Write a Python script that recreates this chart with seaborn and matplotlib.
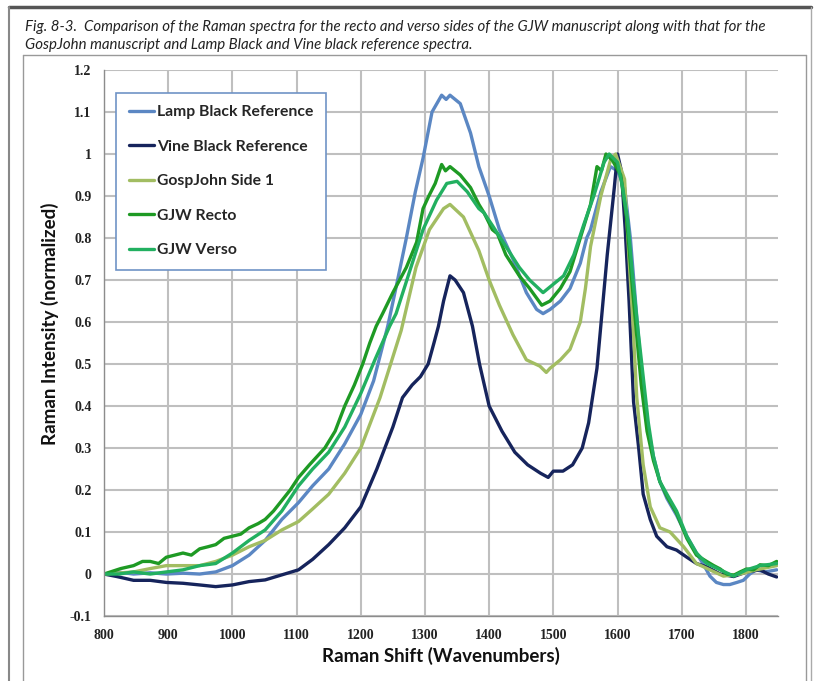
import matplotlib.pyplot as plt
import seaborn as sns
import pandas as pd
from matplotlib.lines import Line2D

sns.set_style("whitegrid")
plt.rcParams["font.family"] = ["Lato", "DejaVu Sans"]

# series names / colours (Excel-like)
names = ["Lamp Black Reference", "Vine Black Reference", "GospJohn Side 1", "GJW Recto", "GJW Verso"]
colors = ["#5B87C3", "#16245C", "#A2BD62", "#1E9A24", "#22B060"]

x_ticks = [800, 900, 1000, 1100, 1200, 1300, 1400, 1500, 1600, 1700, 1800]
y_ticks = [-0.1, 0, 0.1, 0.2, 0.3, 0.4, 0.5, 0.6, 0.7, 0.8, 0.9, 1, 1.1, 1.2]
y_tick_labels = ["-0.1", "0", "0.1", "0.2", "0.3", "0.4", "0.5", "0.6", "0.7", "0.8", "0.9", "1", "1.1", "1.2"]

lamp_x = [800, 820, 846, 872, 897, 923, 949, 974, 1000, 1026, 1051, 1077, 1103, 1125, 1150, 1175, 1200,
          1220, 1242, 1256, 1271, 1285, 1297, 1311, 1326, 1333, 1339, 1355, 1371, 1384, 1400, 1416, 1437,
          1458, 1474, 1484, 1495, 1511, 1526, 1542, 1552, 1558, 1574, 1589, 1600, 1611, 1620, 1628, 1635,
          1646, 1656, 1666, 1677, 1692, 1708, 1723, 1735, 1744, 1754, 1765, 1775, 1786, 1796, 1806, 1816,
          1830, 1848]
lamp_y = [0.0, 0.005, 0.0, 0.003, 0.0, 0.002, 0.0, 0.005, 0.02, 0.045, 0.08, 0.13, 0.17, 0.21, 0.25, 0.31, 0.38,
          0.46, 0.59, 0.69, 0.80, 0.91, 0.99, 1.10, 1.14, 1.13, 1.14, 1.12, 1.05, 0.97, 0.90, 0.82, 0.75,
          0.67, 0.63, 0.62, 0.63, 0.65, 0.68, 0.74, 0.80, 0.82, 0.91, 0.97, 0.96, 0.92, 0.80, 0.65, 0.52,
          0.36, 0.28, 0.22, 0.18, 0.14, 0.09, 0.05, 0.02, -0.005, -0.02, -0.025, -0.025, -0.02, -0.015, 0.0, 0.01,
          0.005, 0.01]

vine_x = [800, 820, 846, 872, 897, 923, 949, 974, 1000, 1026, 1051, 1077, 1103, 1125, 1150, 1175, 1200,
          1225, 1250, 1265, 1280, 1293, 1305, 1314, 1321, 1329, 1339, 1347, 1360, 1374, 1385, 1400, 1420,
          1440, 1460, 1480, 1492, 1500, 1515, 1530, 1545, 1555, 1568, 1584, 1595, 1600, 1606, 1612, 1618,
          1625, 1633, 1640, 1651, 1661, 1677, 1692, 1708, 1723, 1739, 1760, 1781, 1801, 1822, 1835, 1848]
vine_y = [0.0, -0.006, -0.015, -0.015, -0.02, -0.022, -0.026, -0.03, -0.026, -0.018, -0.014, -0.002, 0.01, 0.035, 0.07, 0.11, 0.16,
          0.25, 0.35, 0.42, 0.45, 0.47, 0.50, 0.55, 0.59, 0.65, 0.71, 0.70, 0.67, 0.59, 0.50, 0.40, 0.34,
          0.29, 0.26, 0.24, 0.23, 0.245, 0.245, 0.26, 0.30, 0.36, 0.49, 0.76, 0.92, 1.0, 0.96, 0.82, 0.65,
          0.41, 0.30, 0.19, 0.13, 0.09, 0.065, 0.057, 0.04, 0.025, 0.017, 0.0, -0.006, 0.005, 0.01, 0.0, -0.007]

gosp_x = [800, 846, 872, 897, 923, 949, 974, 1000, 1026, 1051, 1077, 1103, 1125, 1150, 1175, 1200, 1230,
          1263, 1286, 1307, 1329, 1339, 1360, 1384, 1400, 1416, 1437, 1458, 1479, 1489, 1495, 1511, 1526,
          1542, 1550, 1558, 1574, 1589, 1597, 1611, 1618, 1624, 1630, 1640, 1651, 1666, 1682, 1703, 1723,
          1744, 1765, 1791, 1816, 1848]
gosp_y = [0.0, 0.005, 0.013, 0.02, 0.02, 0.02, 0.03, 0.045, 0.065, 0.08, 0.105, 0.125, 0.155, 0.19, 0.24, 0.30, 0.42,
          0.58, 0.73, 0.82, 0.87, 0.88, 0.85, 0.77, 0.70, 0.64, 0.57, 0.51, 0.495, 0.48, 0.49, 0.51, 0.535,
          0.60, 0.68, 0.78, 0.90, 0.985, 1.0, 0.94, 0.75, 0.60, 0.42, 0.26, 0.16, 0.11, 0.10, 0.065, 0.025,
          0.01, -0.005, 0.0, 0.01, 0.02]

recto_x = [800, 826, 846, 860, 872, 885, 897, 910, 923, 936, 949, 962, 974, 987, 1000, 1013, 1026, 1040,
           1051, 1064, 1077, 1090, 1103, 1120, 1144, 1160, 1175, 1190, 1203, 1214, 1224, 1234, 1250, 1271,
           1287, 1297, 1306, 1316, 1326, 1332, 1339, 1355, 1371, 1384, 1392, 1405, 1413, 1426, 1447, 1463,
           1482, 1495, 1511, 1526, 1542, 1558, 1568, 1575, 1582, 1592, 1605, 1614, 1621, 1628, 1637, 1646,
           1656, 1666, 1677, 1692, 1708, 1723, 1739, 1750, 1760, 1770, 1781, 1791, 1801, 1812, 1822, 1835, 1848]
recto_y = [0.0, 0.013, 0.02, 0.03, 0.03, 0.025, 0.04, 0.045, 0.05, 0.045, 0.06, 0.065, 0.07, 0.085, 0.09, 0.095, 0.11, 0.12,
           0.13, 0.15, 0.175, 0.20, 0.23, 0.26, 0.30, 0.34, 0.40, 0.45, 0.50, 0.55, 0.59, 0.62, 0.67, 0.73,
           0.79, 0.87, 0.90, 0.93, 0.975, 0.96, 0.97, 0.95, 0.92, 0.88, 0.86, 0.82, 0.81, 0.76, 0.71, 0.68,
           0.64, 0.65, 0.68, 0.72, 0.80, 0.88, 0.97, 0.96, 1.0, 0.985, 0.95, 0.85, 0.72, 0.60, 0.45, 0.34,
           0.27, 0.22, 0.185, 0.145, 0.085, 0.045, 0.03, 0.02, 0.012, 0.0, -0.003, 0.005, 0.012, 0.01, 0.022, 0.02, 0.03]

verso_x = [800, 823, 846, 872, 897, 923, 949, 974, 1000, 1026, 1051, 1077, 1103, 1125, 1150, 1175, 1200,
           1222, 1245, 1255, 1276, 1297, 1318, 1334, 1350, 1366, 1384, 1392, 1405, 1426, 1447, 1463, 1484,
           1500, 1516, 1532, 1547, 1563, 1579, 1587, 1600, 1608, 1616, 1624, 1632, 1640, 1648, 1656, 1666,
           1677, 1692, 1708, 1723, 1739, 1760, 1781, 1801, 1822, 1848]
verso_y = [0.0, 0.0, 0.005, 0.0, 0.005, 0.01, 0.02, 0.025, 0.05, 0.08, 0.105, 0.15, 0.21, 0.25, 0.29, 0.35, 0.43,
           0.51, 0.59, 0.62, 0.72, 0.82, 0.89, 0.93, 0.935, 0.91, 0.87, 0.86, 0.83, 0.78, 0.73, 0.70, 0.67,
           0.69, 0.71, 0.76, 0.83, 0.90, 0.98, 1.0, 0.98, 0.92, 0.84, 0.70, 0.58, 0.47, 0.36, 0.28, 0.22,
           0.19, 0.15, 0.09, 0.05, 0.025, 0.01, -0.005, 0.01, 0.02, 0.025]

xs = [lamp_x, vine_x, gosp_x, recto_x, verso_x]
ys = [lamp_y, vine_y, gosp_y, recto_y, verso_y]
frames = []
for name, x, y in zip(names, xs, ys):
    frames.append(pd.DataFrame({"shift": x, "intensity": y, "series": name}))
spectra = pd.concat(frames, ignore_index=True)

fig = plt.figure(figsize=(8.16, 6.81), dpi=100)
ax = fig.add_axes([0.1275, 0.0954, 0.8259, 0.8018])
sns.lineplot(
    data=spectra,
    x="shift",
    y="intensity",
    hue="series",
    hue_order=names,
    palette=colors,
    estimator=None,
    sort=False,
    lw=2.4,
    legend=False,
    ax=ax,
)

ax.set_xlim(800, 1850)
ax.set_ylim(-0.1, 1.2)
ax.set_xticks(x_ticks)
ax.set_yticks(y_ticks)
ax.set_yticklabels(y_tick_labels)
ax.grid(True, color="#BFBFBF", lw=1.5)
ax.set_axisbelow(True)
for side in ["top", "right"]:
    ax.spines[side].set_visible(False)
for side in ["left", "bottom"]:
    ax.spines[side].set_color("#8C8C8C")
    ax.spines[side].set_linewidth(1.0)
ax.tick_params(axis="both", direction="out", length=5, width=1, color="#8C8C8C", pad=4)
for lab in ax.get_xticklabels() + ax.get_yticklabels():
    lab.set_fontfamily("Liberation Serif")
    lab.set_fontweight("bold")
    lab.set_fontsize(10)
    lab.set_color("#222222")

ax.set_xlabel("Raman Shift (Wavenumbers)", fontsize=13.5, fontweight="bold", color="#111111")
ax.set_ylabel("Raman Intensity (normalized)", fontsize=13.5, fontweight="bold", color="#111111")
ax.yaxis.set_label_coords(-0.067, 0.535)

handles = [Line2D([], [], color=c, lw=2.4) for c in colors]
leg = ax.legend(
    handles, names,
    loc="upper left",
    bbox_to_anchor=(0.018, 0.958),
    borderaxespad=0,
    frameon=True,
    fancybox=False,
    handlelength=1.6,
    handletextpad=0.2,
    labelspacing=1.3,
    borderpad=0.8,
    prop={"family": "Lato", "weight": "bold", "size": 11.3},
)
leg.get_frame().set_edgecolor("#6F93C6")
leg.get_frame().set_linewidth(1.2)
leg.get_frame().set_facecolor("white")
leg.get_frame().set_alpha(1)

# page frame around the figure
W, H = 816, 681
def px_line(x0, y0, x1, y1, **kw):
    fig.add_artist(Line2D([x0 / W, x1 / W], [1 - y0 / H, 1 - y1 / H], transform=fig.transFigure, **kw))

px_line(9, 7, 811, 7, color="#555555", lw=2.5)
px_line(9, 7, 9, 681, color="#888888", lw=1.5)
px_line(811, 7, 811, 681, color="#AAAAAA", lw=1.0)
px_line(23, 55, 806, 55, color="#999999", lw=1.0)
px_line(23, 55, 23, 681, color="#999999", lw=1.0)
px_line(806, 55, 806, 681, color="#999999", lw=1.0)

fig.text(25 / W, 1 - 27 / H,
         "Fig. 8-3.  Comparison of the Raman spectra for the recto and verso sides of the GJW manuscript along with that for the",
         fontsize=10.8, style="italic", va="center", ha="left", color="#222222")
fig.text(25 / W, 1 - 45 / H,
         "GospJohn manuscript and Lamp Black and Vine black reference spectra.",
         fontsize=10.8, style="italic", va="center", ha="left", color="#222222")

fig.savefig("out.png", dpi=100)
